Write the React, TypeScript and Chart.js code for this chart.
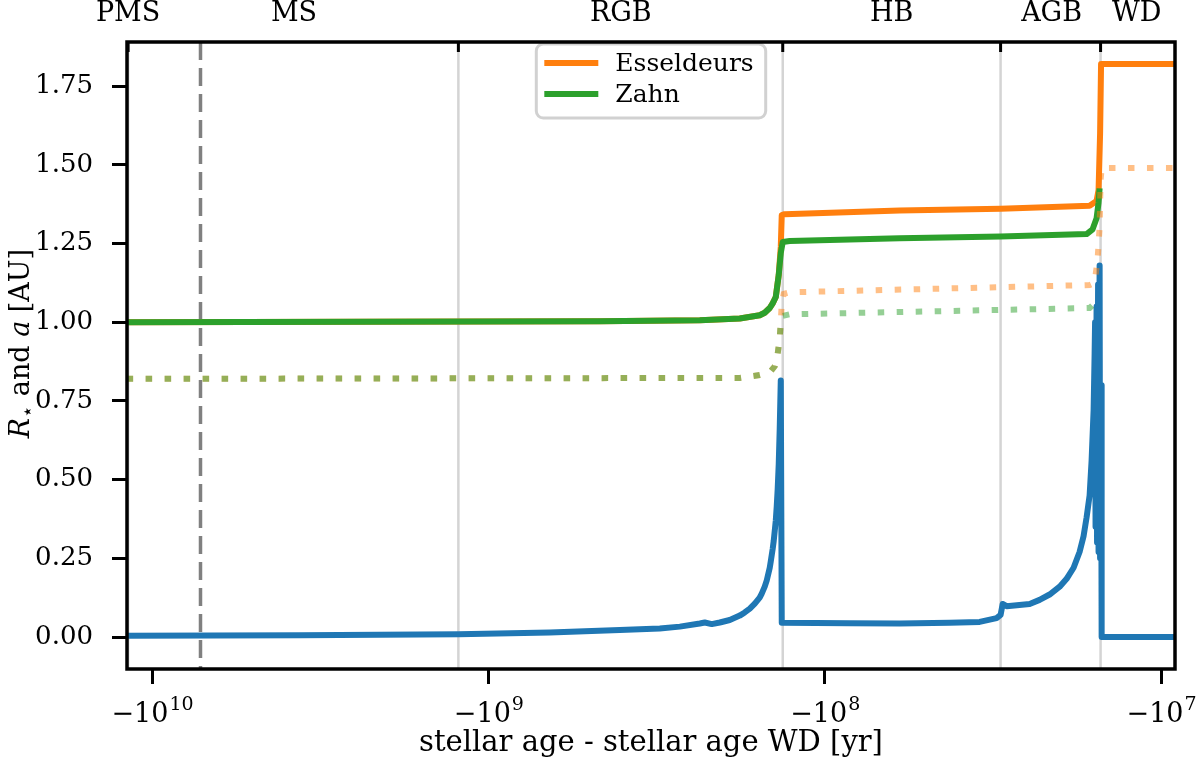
import React, { useEffect, useRef } from 'react';
import { Chart, registerables } from 'chart.js';

Chart.register(...registerables);

const FONT = "'DejaVu Serif', 'Liberation Serif', serif";

// axis ranges (years before WD, shown as negative on a reversed log axis)
const X_MIN = 9.09e6;
const X_MAX = 1.187e10;
const Y_MIN = -0.1016;
const Y_MAX = 1.89;

const xTickValues = [1e10, 1e9, 1e8, 1e7];
const xTickBase = '−10';
const xTickExp = ['10', '9', '8', '7'];
const yTickValues = [0, 0.25, 0.5, 0.75, 1.0, 1.25, 1.5, 1.75];

const phaseLabels = ['PMS', 'MS', 'RGB', 'HB', 'AGB', 'WD'];
const phaseLabelAge = [1.178e10, 3.784e9, 4.039e8, 6.322e7, 2.116e7, 1.182e7];
const phaseBoundaryAge = [1.178e10, 1.228e9, 1.333e8, 3.0e7, 1.513e7];
const zamsAge = 7.177e9;

const legendLabels = ['Esseldeurs', 'Zahn'];

// stellar radius R*
const rStarAge = [
  1.19e10, 3.633e9, 1.228e9, 6.566e8, 4.067e8, 3.093e8, 2.697e8, 2.352e8, 2.273e8, 2.167e8,
  2.051e8, 1.916e8, 1.789e8, 1.729e8, 1.670e8, 1.614e8, 1.561e8, 1.539e8, 1.508e8, 1.487e8,
  1.457e8, 1.447e8, 1.428e8, 1.418e8, 1.398e8, 1.389e8, 1.380e8, 1.370e8, 1.361e8, 1.351e8,
  1.342e8, 8.43e7, 5.99e7, 4.25e7, 3.463e7, 3.083e7, 3.0e7, 2.958e7, 2.878e7, 2.459e7,
  2.297e7, 2.145e7, 2.002e7, 1.909e7, 1.820e7, 1.747e7, 1.700e7, 1.665e7, 1.631e7, 1.609e7,
  1.587e7, 1.576e7, 1.571e7, 1.566e7, 1.555e7, 1.550e7, 1.539e7, 1.534e7, 1.523e7, 1.518e7,
  1.508e7, 1.502e7, 9.0e6,
];
const rStarAU = [
  0.004, 0.006, 0.009, 0.014, 0.022, 0.027, 0.033, 0.043, 0.046, 0.041,
  0.046, 0.054, 0.068, 0.078, 0.09, 0.106, 0.125, 0.138, 0.16, 0.18,
  0.22, 0.24, 0.28, 0.305, 0.37, 0.415, 0.47, 0.55, 0.66, 0.815,
  0.045, 0.044, 0.043, 0.045, 0.048, 0.06, 0.07, 0.105, 0.098, 0.105,
  0.118, 0.135, 0.16, 0.185, 0.22, 0.27, 0.32, 0.38, 0.45, 0.56,
  0.72, 0.9, 1.0, 0.35, 1.05, 0.3, 1.12, 0.27, 1.18, 0.25,
  0.8, 0.0, 0.0,
];

// planet orbit a, Esseldeurs tides
const aEssAge = [
  1.19e10, 4.663e8, 2.352e8, 1.789e8, 1.561e8, 1.508e8, 1.457e8, 1.428e8, 1.398e8, 1.370e8,
  1.351e8, 1.342e8, 1.315e8, 5.99e7, 3.0e7, 1.631e7, 1.555e7, 1.534e7, 1.518e7, 1.508e7,
  9.0e6,
];
const aEssAU = [
  1.0, 1.003, 1.006, 1.012, 1.022, 1.03, 1.045, 1.06, 1.08, 1.15,
  1.24, 1.34, 1.343, 1.355, 1.36, 1.37, 1.385, 1.42, 1.6, 1.82,
  1.82,
];

// planet orbit a, Zahn tides
const aZahnAge = [
  1.19e10, 4.663e8, 2.352e8, 1.789e8, 1.561e8, 1.508e8, 1.457e8, 1.428e8, 1.398e8, 1.370e8,
  1.351e8, 1.333e8, 1.271e8, 5.99e7, 3.0e7, 1.665e7, 1.598e7, 1.555e7, 1.534e7, 1.523e7,
];
const aZahnAU = [
  1.0, 1.003, 1.006, 1.012, 1.022, 1.03, 1.045, 1.06, 1.08, 1.15,
  1.22, 1.255, 1.258, 1.267, 1.272, 1.28, 1.295, 1.33, 1.38, 1.425,
];

// dotted companions (Esseldeurs / Zahn)
const dEssAge = [
  1.19e10, 1.789e8, 1.561e8, 1.457e8, 1.408e8, 1.380e8, 1.361e8, 1.351e8, 1.342e8, 1.324e8,
  1.271e8, 1.631e7, 1.576e7, 1.544e7, 1.523e7, 1.513e7, 1.502e7, 9.0e6,
];
const dEssAU = [
  0.82, 0.823, 0.832, 0.84, 0.86, 0.9, 0.95, 1.0, 1.06, 1.09,
  1.095, 1.118, 1.125, 1.2, 1.3, 1.45, 1.49, 1.49,
];
const dZahnAge = [
  1.19e10, 1.789e8, 1.561e8, 1.457e8, 1.408e8, 1.380e8, 1.361e8, 1.351e8, 1.333e8, 1.271e8,
  1.631e7, 1.576e7, 1.555e7,
];
const dZahnAU = [
  0.82, 0.823, 0.832, 0.84, 0.86, 0.9, 0.95, 1.0, 1.02, 1.025,
  1.045, 1.06, 1.07,
];

const BLUE = '#1f77b4';
const ORANGE = '#ff7f0e';
const GREEN = '#2ca02c';
const legendColors = [ORANGE, GREEN];

const pts = (xs: number[], ys: number[]) => xs.map((x, i) => ({ x, y: ys[i] }));

const decor = {
  id: 'decor',
  afterDatasetsDraw(chart: any) {
    const { ctx, chartArea } = chart;
    ctx.save();
    ctx.font = `25px ${FONT}`;
    const textW = Math.max(...legendLabels.map((t) => ctx.measureText(t).width));
    const w = 79 + textW + 12;
    const h = 74;
    const x0 = (chartArea.left + chartArea.right) / 2 - w / 2;
    const y0 = chartArea.top + 2;
    ctx.beginPath();
    ctx.roundRect(x0, y0, w, h, 7);
    ctx.fillStyle = 'rgba(255,255,255,0.8)';
    ctx.fill();
    ctx.lineWidth = 3;
    ctx.strokeStyle = 'rgba(204,204,204,0.9)';
    ctx.stroke();
    legendLabels.forEach((t, i) => {
      const y = y0 + 19 + i * 31;
      ctx.beginPath();
      ctx.strokeStyle = legendColors[i];
      ctx.lineWidth = 6;
      ctx.lineCap = 'butt';
      ctx.moveTo(x0 + 8, y);
      ctx.lineTo(x0 + 62, y);
      ctx.stroke();
      ctx.fillStyle = '#000';
      ctx.textBaseline = 'middle';
      ctx.textAlign = 'left';
      ctx.fillText(t, x0 + 79, y + 1);
    });
    ctx.restore();
  },
  afterDraw(chart: any) {
    const { ctx, chartArea, scales } = chart;
    ctx.save();
    // frame
    ctx.strokeStyle = '#000';
    ctx.lineWidth = 3.5;
    ctx.strokeRect(chartArea.left, chartArea.top, chartArea.right - chartArea.left, chartArea.bottom - chartArea.top);
    // inward top ticks at phase boundaries
    ctx.lineWidth = 3;
    phaseBoundaryAge.forEach((b) => {
      const px = scales.x.getPixelForValue(b);
      ctx.beginPath();
      ctx.moveTo(px, chartArea.top);
      ctx.lineTo(px, chartArea.top + 10);
      ctx.stroke();
    });
    // x tick labels with superscript exponents
    ctx.fillStyle = '#000';
    ctx.textBaseline = 'alphabetic';
    ctx.textAlign = 'left';
    xTickValues.forEach((v, i) => {
      const px = scales.x.getPixelForValue(v);
      ctx.font = `27px ${FONT}`;
      const wb = ctx.measureText(xTickBase).width;
      ctx.font = `19px ${FONT}`;
      const we = ctx.measureText(xTickExp[i]).width;
      const x0 = px - (wb + we) / 2;
      ctx.font = `27px ${FONT}`;
      ctx.fillText(xTickBase, x0, chartArea.bottom + 53);
      ctx.font = `19px ${FONT}`;
      ctx.fillText(xTickExp[i], x0 + wb + 1, chartArea.bottom + 41);
    });
    // y title with mixed styles
    const parts = [
      { t: 'R', f: `italic 27px ${FONT}`, dy: 0 },
      { t: '⋆', f: `20px ${FONT}`, dy: 5 },
      { t: ' and ', f: `27px ${FONT}`, dy: 0 },
      { t: 'a', f: `italic 27px ${FONT}`, dy: 0 },
      { t: ' [AU]', f: `27px ${FONT}`, dy: 0 },
    ];
    let total = 0;
    const widths = parts.map((p) => {
      ctx.font = p.f;
      const wd = ctx.measureText(p.t).width;
      total += wd;
      return wd;
    });
    ctx.translate(29, (chartArea.top + chartArea.bottom) / 2 - 12);
    ctx.rotate(-Math.PI / 2);
    let x = -total / 2;
    parts.forEach((p, i) => {
      ctx.font = p.f;
      ctx.fillText(p.t, x, p.dy);
      x += widths[i];
    });
    ctx.restore();
  },
};

export default function App() {
  const ref = useRef<HTMLCanvasElement>(null);

  useEffect(() => {
    const canvas = ref.current;
    if (!canvas) return;

    const lineBase = { pointRadius: 0, tension: 0, fill: false };

    const boundarySets = phaseBoundaryAge.map((b) => ({
      ...lineBase,
      label: 'boundary',
      data: [{ x: b, y: Y_MAX }, { x: b, y: Y_MIN }],
      borderColor: '#d4d4d4',
      borderWidth: 2.5,
      order: 20,
    }));

    const chart = new Chart(canvas, {
      type: 'line',
      data: {
        datasets: [
          ...boundarySets,
          {
            ...lineBase,
            label: 'zams',
            data: [{ x: zamsAge, y: Y_MAX }, { x: zamsAge, y: Y_MIN }],
            borderColor: '#808080',
            borderWidth: 3.5,
            borderDash: [18, 8],
            order: 19,
          },
          {
            ...lineBase,
            label: 'R*',
            data: pts(rStarAge, rStarAU),
            borderColor: BLUE,
            borderWidth: 6,
            borderJoinStyle: 'round',
            order: 5,
          },
          {
            ...lineBase,
            label: legendLabels[0],
            data: pts(aEssAge, aEssAU),
            borderColor: ORANGE,
            borderWidth: 6,
            borderJoinStyle: 'round',
            order: 4,
          },
          {
            ...lineBase,
            label: legendLabels[1],
            data: pts(aZahnAge, aZahnAU),
            borderColor: GREEN,
            borderWidth: 6,
            borderJoinStyle: 'round',
            order: 3,
          },
          {
            ...lineBase,
            label: 'dotted Esseldeurs',
            data: pts(dEssAge, dEssAU),
            borderColor: 'rgba(255,127,14,0.5)',
            borderWidth: 6,
            borderDash: [6.5, 12.5],
            borderCapStyle: 'butt',
            order: 2,
          },
          {
            ...lineBase,
            label: 'dotted Zahn',
            data: pts(dZahnAge, dZahnAU),
            borderColor: 'rgba(44,160,44,0.5)',
            borderWidth: 6,
            borderDash: [6.5, 12.5],
            borderCapStyle: 'butt',
            order: 1,
          },
        ] as any,
      },
      options: {
        responsive: true,
        maintainAspectRatio: false,
        animation: false,
        events: [],
        layout: { padding: { left: 0, right: 25, top: 0, bottom: 0 } },
        plugins: { legend: { display: false }, tooltip: { enabled: false } },
        scales: {
          x: {
            type: 'logarithmic',
            position: 'bottom',
            reverse: true,
            min: X_MIN,
            max: X_MAX,
            afterBuildTicks: (s: any) => {
              s.ticks = xTickValues.map((v) => ({ value: v }));
            },
            afterFit: (s: any) => {
              s.height = 89;
              s.paddingLeft = 0;
              s.paddingRight = 0;
            },
            ticks: {
              display: false,
              autoSkip: false,
              maxRotation: 0,
            },
            grid: {
              display: true,
              drawOnChartArea: false,
              drawTicks: true,
              tickLength: 15,
              tickWidth: 3,
              tickColor: '#000',
            },
            border: { display: false },
            title: {
              display: true,
              text: 'stellar age - stellar age WD [yr]',
              color: '#000',
              font: { family: FONT, size: 29, lineHeight: 1.0 },
              padding: { top: 0, bottom: 0 },
            },
          },
          xTop: {
            type: 'logarithmic',
            position: 'top',
            reverse: true,
            min: X_MIN,
            max: X_MAX,
            afterBuildTicks: (s: any) => {
              s.ticks = phaseLabelAge.map((v) => ({ value: v }));
            },
            afterFit: (s: any) => {
              s.height = 42;
              s.paddingLeft = 0;
              s.paddingRight = 0;
            },
            ticks: {
              autoSkip: false,
              maxRotation: 0,
              padding: 12,
              color: '#000',
              font: { family: FONT, size: 27 },
              callback: (_v: any, i: number) => phaseLabels[i],
            },
            grid: { display: false, drawTicks: false },
            border: { display: false },
          },
          y: {
            type: 'linear',
            min: Y_MIN,
            max: Y_MAX,
            afterBuildTicks: (s: any) => {
              s.ticks = yTickValues.map((v) => ({ value: v }));
            },
            afterFit: (s: any) => {
              s.width = 127;
              s.paddingTop = 0;
              s.paddingBottom = 0;
            },
            ticks: {
              padding: 19,
              color: '#000',
              font: { family: FONT, size: 26 },
              callback: (v: any) => Number(v).toFixed(2),
            },
            grid: {
              display: true,
              drawOnChartArea: false,
              drawTicks: true,
              tickLength: 15,
              tickWidth: 3,
              tickColor: '#000',
            },
            border: { display: false },
          },
        },
      } as any,
      plugins: [decor],
    });

    return () => chart.destroy();
  }, []);

  return (
    <div style={{ position: 'absolute', left: 0, top: 0, width: 1200, height: 758, background: '#fff' }}>
      <canvas ref={ref} />
    </div>
  );
}
